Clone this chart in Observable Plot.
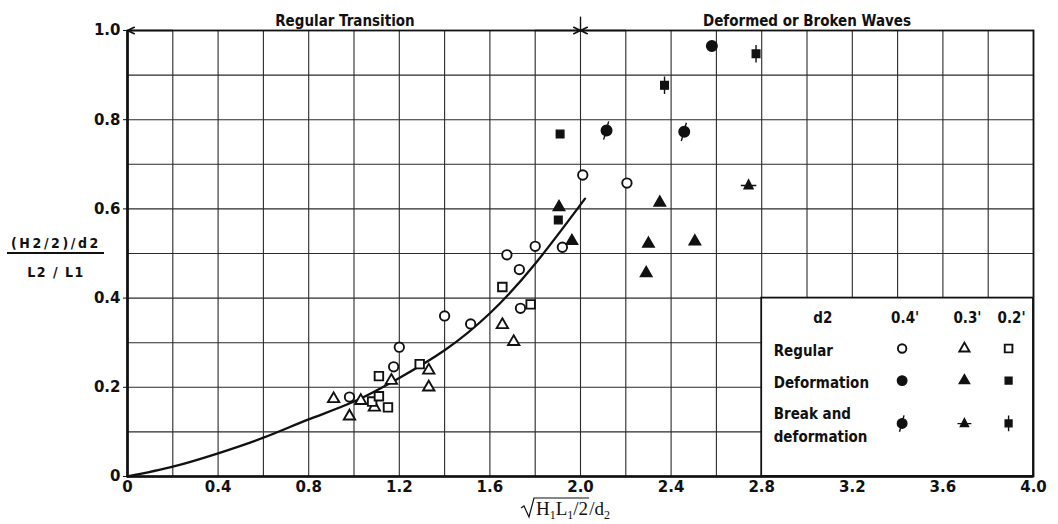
<!DOCTYPE html>
<html>
<head>
<meta charset="utf-8">
<script src="https://cdn.jsdelivr.net/npm/d3@7"></script>
<script src="https://cdn.jsdelivr.net/npm/@observablehq/plot@0.6"></script>
<style>
  html, body { margin: 0; padding: 0; background: #fff; }
  #chart { width: 1058px; height: 524px; }
</style>
</head>
<body>
<div id="chart"></div>
<script>
// ---------------- DATA ----------------
// x = sqrt(H1 L1 / 2) / d2 ,  y = ((H2/2)/d2) / (L2/L1)
const regular04 = [[0.98,0.178],[1.175,0.246],[1.2,0.29],[1.4,0.36],[1.515,0.342],[1.675,0.497],[1.73,0.464],[1.735,0.377],[1.8,0.516],[1.92,0.514],[2.01,0.676],[2.205,0.658]];
const regular03 = [[0.91,0.174],[0.98,0.135],[1.03,0.17],[1.09,0.155],[1.165,0.215],[1.33,0.238],[1.33,0.2],[1.655,0.34],[1.705,0.302]];
const regular02 = [[1.08,0.168],[1.11,0.18],[1.15,0.155],[1.11,0.225],[1.29,0.252],[1.655,0.425],[1.78,0.386]];
const deform04 = [[2.58,0.965]];
const deform03 = [[1.905,0.604],[1.962,0.528],[2.29,0.456],[2.3,0.522],[2.35,0.614],[2.505,0.527]];
const deform02 = [[1.91,0.768],[1.902,0.575]];
const break04 = [[2.115,0.776],[2.458,0.773]];
const break03 = [[2.742,0.653]];
const break02 = [[2.371,0.877],[2.775,0.948]];

const curveX = [0, 0.2, 0.4, 0.6, 0.8, 1.0, 1.2, 1.4, 1.6, 1.8, 2.02];
const curveY = [0, 0.022, 0.052, 0.087, 0.128, 0.168, 0.221, 0.283, 0.366, 0.477, 0.623];

const xTicks = [0, 0.4, 0.8, 1.2, 1.6, 2.0, 2.4, 2.8, 3.2, 3.6, 4.0];
const xTickLabels = ["0", "0.4", "0.8", "1.2", "1.6", "2.0", "2.4", "2.8", "3.2", "3.6", "4.0"];
const yTicks = [0, 0.2, 0.4, 0.6, 0.8, 1.0];
const yTickLabels = ["0", "0.2", "0.4", "0.6", "0.8", "1.0"];
const gridX = [0, 0.2, 0.4, 0.6, 0.8, 1.0, 1.2, 1.4, 1.6, 1.8, 2.0, 2.2, 2.4, 2.6, 2.8, 3.0, 3.2, 3.4, 3.6, 3.8, 4.0];
const gridY = [0, 0.1, 0.2, 0.3, 0.4, 0.5, 0.6, 0.7, 0.8, 0.9, 1.0];

const regionNames = ["Regular Transition", "Deformed or Broken Waves"];
const regionSpans = [[0, 2.0], [2.0, 4.0]];

const legendTitle = "d2";
const legendCols = ["0.4'", "0.3'", "0.2'"];
const legendRows = ["Regular", "Deformation", "Break and\ndeformation"];

const yLabelTop = "(H2/2)/d2";
const yLabelBottom = "L2 / L1";

// ---------------- LAYOUT (not data) ----------------
const LAYOUT = {
  box: {x1: 2.8, x2: 4.0, y1: 0, y2: 0.4},
  colX: [3.42, 3.695, 3.89],
  rowY: [0.287, 0.215, 0.119],
  headerY: 0.354,
  titleX: 3.07,
  rowLabelX: 2.853
};

// ---------------- SYMBOLS ----------------
const slashedCircle = {
  draw(ctx, size) {
    const r = Math.sqrt(size / Math.PI);
    ctx.moveTo(r, 0);
    ctx.arc(0, 0, r, 0, 2 * Math.PI);
    ctx.closePath();
    ctx.moveTo(-0.55 * r, 1.75 * r);
    ctx.lineTo(0.4 * r, -1.7 * r);
  }
};
const barTriangle = {
  draw(ctx, size) {
    const r = Math.sqrt(size / Math.PI);
    ctx.moveTo(0, -1.25 * r);
    ctx.lineTo(1.05 * r, 0.8 * r);
    ctx.lineTo(-1.05 * r, 0.8 * r);
    ctx.closePath();
    ctx.moveTo(-1.8 * r, 0.05 * r);
    ctx.lineTo(1.8 * r, 0.05 * r);
  }
};
const barSquare = {
  draw(ctx, size) {
    const s = Math.sqrt(size) / 2;
    ctx.moveTo(-s, -s);
    ctx.lineTo(s, -s);
    ctx.lineTo(s, s);
    ctx.lineTo(-s, s);
    ctx.closePath();
    ctx.moveTo(0, -2.3 * s);
    ctx.lineTo(0, 2.3 * s);
  }
};

const series = [
  {pts: regular04, row: 0, col: 0, symbol: "circle",   filled: false, r: 4.7},
  {pts: regular03, row: 0, col: 1, symbol: "triangle", filled: false, r: 4.2},
  {pts: regular02, row: 0, col: 2, symbol: "square",   filled: false, r: 4.8},
  {pts: deform04,  row: 1, col: 0, symbol: "circle",   filled: true,  r: 5.3},
  {pts: deform03,  row: 1, col: 1, symbol: "triangle", filled: true,  r: 4.3},
  {pts: deform02,  row: 1, col: 2, symbol: "square",   filled: true,  r: 4.3},
  {pts: break04,   row: 2, col: 0, symbol: slashedCircle, filled: true, r: 5.3},
  {pts: break03,   row: 2, col: 1, symbol: barTriangle,   filled: true, r: 4.3},
  {pts: break02,   row: 2, col: 2, symbol: barSquare,     filled: true, r: 4.3}
];

const curve = curveX.map((x, i) => ({x, y: curveY[i]}));
const xLabelMap = new Map(xTicks.map((d, i) => [d, xTickLabels[i]]));
const yLabelMap = new Map(yTicks.map((d, i) => [d, yTickLabels[i]]));

const FONT = "'DejaVu Sans Condensed', 'DejaVu Sans', sans-serif";
const TICKFONT = "'DejaVu Sans', sans-serif";
const INK = "#111";

const dotOpts = (s) => ({
  symbol: s.symbol,
  r: s.r,
  fill: s.filled ? INK : "white",
  stroke: INK,
  strokeWidth: s.filled ? 1.4 : 1.9
});

const spanArrows = [
  {x1: regionSpans[0][0] + 0.2, x2: regionSpans[0][0]},
  {x1: regionSpans[0][1] - 0.2, x2: regionSpans[0][1]},
  {x1: regionSpans[1][0] + 0.2, x2: regionSpans[1][0]}
];

const chart = Plot.plot({
  width: 1058,
  height: 524,
  marginTop: 30,
  marginRight: 25,
  marginBottom: 48,
  marginLeft: 127,
  x: {domain: [0, 4]},
  y: {domain: [0, 1]},
  style: {fontFamily: FONT, fontSize: "15px", background: "white", color: INK},
  marks: [
    // grid
    Plot.ruleX(gridX, {y1: 0, y2: 1, stroke: "#2a2a2a", strokeWidth: 1.1}),
    Plot.ruleY(gridY, {x1: 0, x2: 4, stroke: "#2a2a2a", strokeWidth: 1.1}),
    // legend box
    Plot.rect([LAYOUT.box], {x1: "x1", x2: "x2", y1: "y1", y2: "y2", fill: "white", stroke: INK, strokeWidth: 1.8}),
    // frame and heavy axes
    Plot.frame({stroke: INK, strokeWidth: 1.8}),
    Plot.ruleX([0], {y1: 0, y2: 1, stroke: INK, strokeWidth: 2.6}),
    Plot.ruleY([0], {x1: 0, x2: 4, stroke: INK, strokeWidth: 2.6}),
    // divider tick and arrows at the top
    Plot.ruleX([regionSpans[0][1]], {y1: 1, y2: 1.03, stroke: INK, strokeWidth: 1.4}),
    Plot.arrow(spanArrows, {x1: "x1", x2: "x2", y1: 1, y2: 1, stroke: INK, strokeWidth: 1.6, headLength: 7, headAngle: 50}),
    Plot.text(regionNames, {
      x: (d, i) => (regionSpans[i][0] + regionSpans[i][1]) / 2 - (i === 0 ? 0.04 : 0),
      frameAnchor: "top", dy: -15, fontSize: 15, fontWeight: "bold", fill: INK
    }),
    // axes
    Plot.axisX(xTicks, {tickFormat: d => xLabelMap.get(d), tickSize: 0, tickPadding: 5, fontSize: 15, fontWeight: "bold", fontFamily: TICKFONT, label: null, fill: INK}),
    Plot.axisY(yTicks, {tickFormat: d => yLabelMap.get(d), tickSize: 4, tickPadding: 3, fontSize: 15, fontWeight: "bold", fontFamily: TICKFONT, label: null, fill: INK, stroke: INK}),
    // fitted curve
    Plot.line(curve, {x: "x", y: "y", curve: "natural", stroke: INK, strokeWidth: 2.3}),
    // observations
    ...series.map(s => Plot.dot(s.pts, {x: d => d[0], y: d => d[1], ...dotOpts(s)})),
    // legend
    Plot.text([legendTitle], {x: LAYOUT.titleX, y: LAYOUT.headerY, fontSize: 15, fontWeight: "bold", fill: INK}),
    Plot.text(legendCols, {x: (d, i) => LAYOUT.colX[i], y: LAYOUT.headerY, dx: 3, fontSize: 15, fontWeight: "bold", fill: INK}),
    Plot.text(legendRows, {x: LAYOUT.rowLabelX, y: (d, i) => LAYOUT.rowY[i], textAnchor: "start", lineHeight: 1.5, fontSize: 15, fontWeight: "bold", fill: INK}),
    ...series.map(s => Plot.dot([s], {x: LAYOUT.colX[s.col], y: LAYOUT.rowY[s.row], ...dotOpts(s), r: s.r * 0.9}))
  ]
});

document.getElementById("chart").appendChild(chart);

const svg = d3.select(chart);

// y axis label: a stacked fraction, left of the axis
(function drawYLabel() {
  const g = svg.append("g").attr("font-family", FONT).attr("font-weight", "bold")
    .attr("font-size", 14).attr("fill", INK).attr("text-anchor", "middle");
  const cx = 56, barY = 253;
  g.append("text").attr("x", cx).attr("y", barY - 5).attr("letter-spacing", 2.6).text(yLabelTop);
  g.append("text").attr("x", cx).attr("y", barY + 24).attr("letter-spacing", 1.5).text(yLabelBottom);
  g.append("line").attr("x1", 7).attr("x2", 104).attr("y1", barY).attr("y2", barY)
    .attr("stroke", INK).attr("stroke-width", 1.8);
})();

// x axis label: sqrt(H1 L1 / 2) / d2 with a radical sign
(function drawXLabel() {
  const g = svg.append("g")
    .attr("font-family", "'Liberation Serif', 'DejaVu Serif', serif")
    .attr("text-anchor", "start")
    .attr("fill", INK);
  const baseline = 515;
  const startX = 536;
  const SUB = 4;
  const run = (x, parts) => {
    const t = g.append("text").attr("x", x).attr("y", baseline).attr("font-size", 19).attr("text-anchor", "start");
    for (const [s, isSub] of parts) {
      const sp = t.append("tspan").text(s);
      if (isSub) sp.attr("font-size", 12).attr("dy", SUB);
      else sp.attr("dy", 0);
    }
    return t;
  };
  // each subscript is followed by a tspan that moves the baseline back up
  const fix = (t) => {
    const spans = t.selectAll("tspan").nodes();
    for (let i = 1; i < spans.length; i++) {
      const prevSub = spans[i - 1].getAttribute("font-size") === "12";
      const curSub = spans[i].getAttribute("font-size") === "12";
      if (prevSub && !curSub) spans[i].setAttribute("dy", -SUB);
    }
  };
  const under = run(startX, [["H", false], ["1", true], ["L", false], ["1", true], ["/2", false]]);
  fix(under);
  const w1 = under.node().getComputedTextLength();
  const after = run(startX + w1 + 1, [["/d", false], ["2", true]]);
  fix(after);
  const topY = baseline - 17;
  g.append("path")
    .attr("d", `M${startX - 15},${baseline - 7} L${startX - 12},${baseline - 9} L${startX - 7},${baseline + 2} L${startX - 2},${topY} L${startX + w1 + 1},${topY}`)
    .attr("fill", "none").attr("stroke", INK).attr("stroke-width", 1.2);
})();
</script>
</body>
</html>
